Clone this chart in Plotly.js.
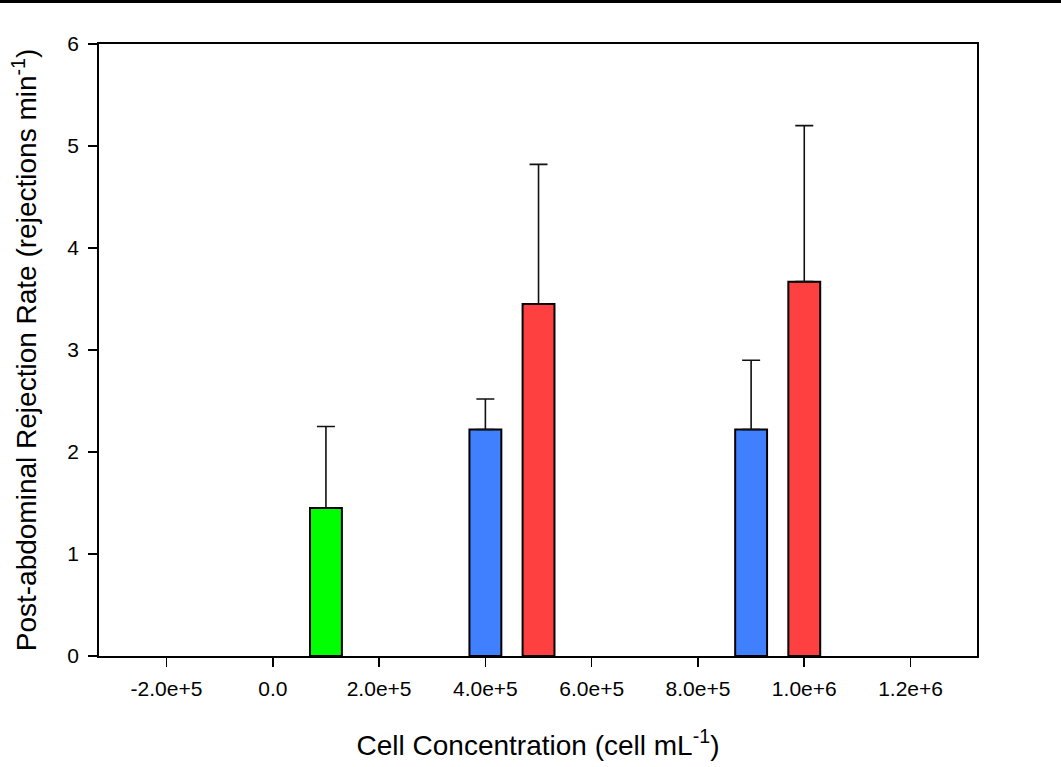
<!DOCTYPE html>
<html>
<head>
<meta charset="utf-8">
<script src="https://cdn.plot.ly/plotly-3.0.1.min.js"></script>
<style>html,body{margin:0;padding:0;background:#fff;}#chart{width:1061px;height:767px;}</style>
</head>
<body>
<div id="chart"></div>
<script>
// Data
const greenX = [1e5];
const greenY = [1.45];
const greenErr = [0.80];

const blueX = [4e5, 9e5];
const blueY = [2.22, 2.22];
const blueErr = [0.30, 0.68];

const redX = [5e5, 1e6];
const redY = [3.45, 3.67];
const redErr = [1.37, 1.53];

const xTickVals = [-2e5, 0, 2e5, 4e5, 6e5, 8e5, 1e6, 1.2e6];
const xTickText = ["-2.0e+5", "0.0", "2.0e+5", "4.0e+5", "6.0e+5", "8.0e+5", "1.0e+6", "1.2e+6"];
const yTickVals = [0, 1, 2, 3, 4, 5, 6];

const barWidth = 6e4;
const FONT = "Liberation Sans, Arial, sans-serif";

function barTrace(x, y, err, color) {
  return {
    type: 'bar', x: x, y: y, width: x.map(() => barWidth),
    marker: {color: color, line: {color: '#000', width: 2}},
    error_y: {type: 'data', array: err, symmetric: false, arrayminus: err.map(() => 0),
              color: '#111', thickness: 1.6, width: 9},
    hoverinfo: 'none', showlegend: false
  };
}

const data = [
  barTrace(greenX, greenY, greenErr, '#00ff00'),
  barTrace(blueX, blueY, blueErr, '#4080ff'),
  barTrace(redX, redY, redErr, '#ff4040')
];

const layout = {
  width: 1061, height: 767,
  margin: {l: 99, r: 84, t: 44, b: 111},
  paper_bgcolor: '#fff', plot_bgcolor: '#fff',
  barmode: 'overlay',
  font: {family: FONT, color: '#000', size: 21},
  xaxis: {
    range: [-3.27e5, 1.325e6],
    tickmode: 'array', tickvals: xTickVals, ticktext: xTickText,
    ticks: 'outside', ticklen: 9, tickwidth: 1.6, tickcolor: '#000',
    ticklabelstandoff: 4,
    showline: true, linecolor: '#000', linewidth: 1.8, mirror: true,
    showgrid: false, zeroline: false,
    tickfont: {family: FONT, size: 21, color: '#000'},
    title: {text: 'Cell Concentration (cell mL<sup>-1</sup>)', font: {family: FONT, size: 28, color: '#000'}, standoff: 36}
  },
  yaxis: {
    range: [0, 6],
    tickmode: 'array', tickvals: yTickVals,
    ticks: 'outside', ticklen: 9, tickwidth: 1.6, tickcolor: '#000',
    ticklabelstandoff: 5,
    showline: true, linecolor: '#000', linewidth: 1.8, mirror: true,
    showgrid: false, zeroline: false,
    tickfont: {family: FONT, size: 21, color: '#000'},
    title: {text: 'Post-abdominal Rejection Rate (rejections min<sup>-1</sup>)', font: {family: FONT, size: 28, color: '#000'}, standoff: 22}
  },
  shapes: [{
    type: 'line', xref: 'paper', yref: 'paper',
    x0: -99/878, x1: (1061-99)/878,
    y0: (656-1.5)/612, y1: (656-1.5)/612,
    line: {color: '#000', width: 3}
  }]
};

Plotly.newPlot('chart', data, layout, {displayModeBar: false, staticPlot: true});
</script>
</body>
</html>
